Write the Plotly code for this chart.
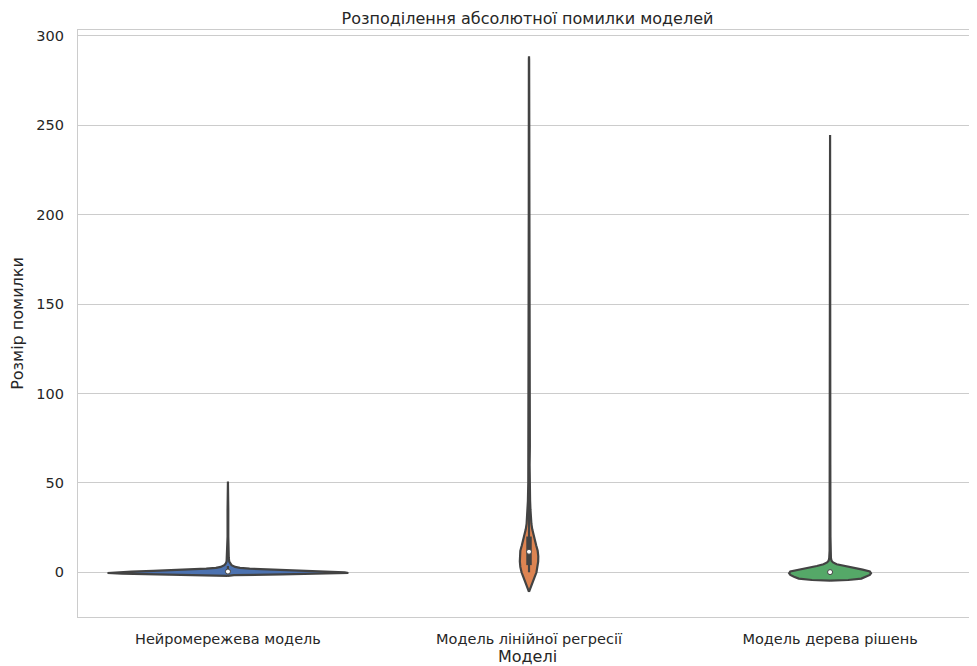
import plotly.graph_objects as go

# ---------------- data ----------------
categories = ["Нейромережева модель", "Модель лінійної регресії", "Модель дерева рішень"]
fill_colors = ["#4C72B0", "#DD8452", "#55A868"]

# relative density profile (1.0 = widest violin) at error levels
nn_levels = [-2.0, -1.6, -1.2, -0.8, -0.4, 0.0, 0.4, 0.8, 1.2, 1.6, 2.0, 2.5, 3.0, 4.0,
             5.0, 6.0, 8.0, 12.0, 20.0, 35.0, 48.0, 50.8]
nn_density = [0.0, 0.05, 0.45, 0.88, 1.0, 0.97, 0.8, 0.62, 0.45, 0.3, 0.18, 0.1, 0.06, 0.03,
              0.018, 0.011, 0.007, 0.004, 0.003, 0.003, 0.002, 0.0]

lr_levels = [-11.0, -9.0, -6.0, -3.0, 0.0, 3.0, 6.0, 9.0, 12.0, 15.0, 18.0, 21.0, 24.0, 27.0,
             30.0, 35.0, 40.0, 50.0, 60.0, 70.0, 75.0, 80.0, 100.0, 150.0, 200.0, 287.0, 288.5]
lr_density = [0.0, 0.01, 0.027, 0.045, 0.062, 0.072, 0.076, 0.077, 0.072, 0.06, 0.047, 0.036,
              0.027, 0.02, 0.016, 0.012, 0.009, 0.006, 0.005, 0.007, 0.007, 0.005, 0.003,
              0.002, 0.002, 0.001, 0.0]

dt_levels = [-4.7, -4.3, -3.5, -2.5, -1.5, -0.5, 0.5, 1.5, 2.5, 3.5, 4.5, 5.5, 6.5, 8.0,
             12.0, 20.0, 60.0, 150.0, 243.0, 244.5]
dt_density = [0.0, 0.15, 0.26, 0.30, 0.33, 0.34, 0.33, 0.27, 0.19, 0.11, 0.055, 0.025, 0.012,
              0.007, 0.004, 0.003, 0.002, 0.002, 0.001, 0.0]

# inner box statistics per model
whisker_low = [0.0, 0.0, 0.0]
q1 = [0.1, 4.0, 0.0]
median = [0.4, 11.5, 0.1]
q3 = [1.3, 20.0, 0.6]
whisker_high = [3.5, 44.0, 1.5]

yticks = [0, 50, 100, 150, 200, 250, 300]

# ---------------- figure ----------------
GRAY = "#434343"
TEXT = "#262626"
FONT = "DejaVu Sans"
MAX_HALF = 0.4

profiles = [(nn_levels, nn_density), (lr_levels, lr_density), (dt_levels, dt_density)]

fig = go.Figure()
for i, (lv, dens) in enumerate(profiles):
    right = [i + MAX_HALF * d for d in dens]
    left = [i - MAX_HALF * d for d in dens]
    xs = right + left[::-1] + [right[0]]
    ys = lv + lv[::-1] + [lv[0]]
    fig.add_trace(go.Scatter(
        x=xs, y=ys, mode="lines", fill="toself", fillcolor=fill_colors[i],
        line=dict(color=GRAY, width=2.2), hoverinfo="skip", showlegend=False,
    ))

for i in range(len(categories)):
    fig.add_trace(go.Scatter(
        x=[i, i], y=[whisker_low[i], whisker_high[i]], mode="lines",
        line=dict(color=GRAY, width=2.2), showlegend=False, hoverinfo="skip"))
    fig.add_trace(go.Scatter(
        x=[i, i], y=[q1[i], q3[i]], mode="lines",
        line=dict(color=GRAY, width=5.5), showlegend=False, hoverinfo="skip"))

fig.add_trace(go.Scatter(
    x=list(range(len(categories))), y=median, mode="markers",
    marker=dict(color="white", size=5, line=dict(color=GRAY, width=1)),
    showlegend=False, hoverinfo="skip"))

# the page body adds an 8px offset, so the figure is sized to sit exactly in the window
fig.update_layout(
    width=969, height=658,
    margin=dict(l=70, r=0, t=22, b=49),
    paper_bgcolor="white", plot_bgcolor="white",
    font=dict(family=FONT, color=TEXT, size=14.5),
    title=dict(text="Розподілення абсолютної помилки моделей", x=0.5, xref="paper",
               y=1 - 10 / 658, yanchor="middle", xanchor="center",
               font=dict(size=16, color=TEXT, family=FONT)),
    showlegend=False,
)
fig.update_xaxes(
    range=[-0.498, 2.488], tickmode="array", tickvals=list(range(len(categories))),
    ticktext=categories, showgrid=False, zeroline=False,
    showline=True, mirror=True, linecolor="#cccccc", linewidth=1.25,
    ticks="outside", ticklen=8, tickcolor="rgba(0,0,0,0)",
    tickfont=dict(size=14.5, color=TEXT),
    title=dict(text="Моделі", standoff=7, font=dict(size=16, color=TEXT)),
)
fig.update_yaxes(
    range=[-25.0, 303.2], tickmode="array", tickvals=yticks,
    showgrid=True, gridcolor="#cccccc", gridwidth=1.1, zeroline=False,
    showline=True, mirror=False, linecolor="#cccccc", linewidth=1.25,
    ticks="outside", ticklen=10, tickcolor="rgba(0,0,0,0)",
    tickfont=dict(size=14.5, color=TEXT),
    title=dict(text="Розмір помилки", standoff=10, font=dict(size=16, color=TEXT)),
)

fig.write_html("out.html")
